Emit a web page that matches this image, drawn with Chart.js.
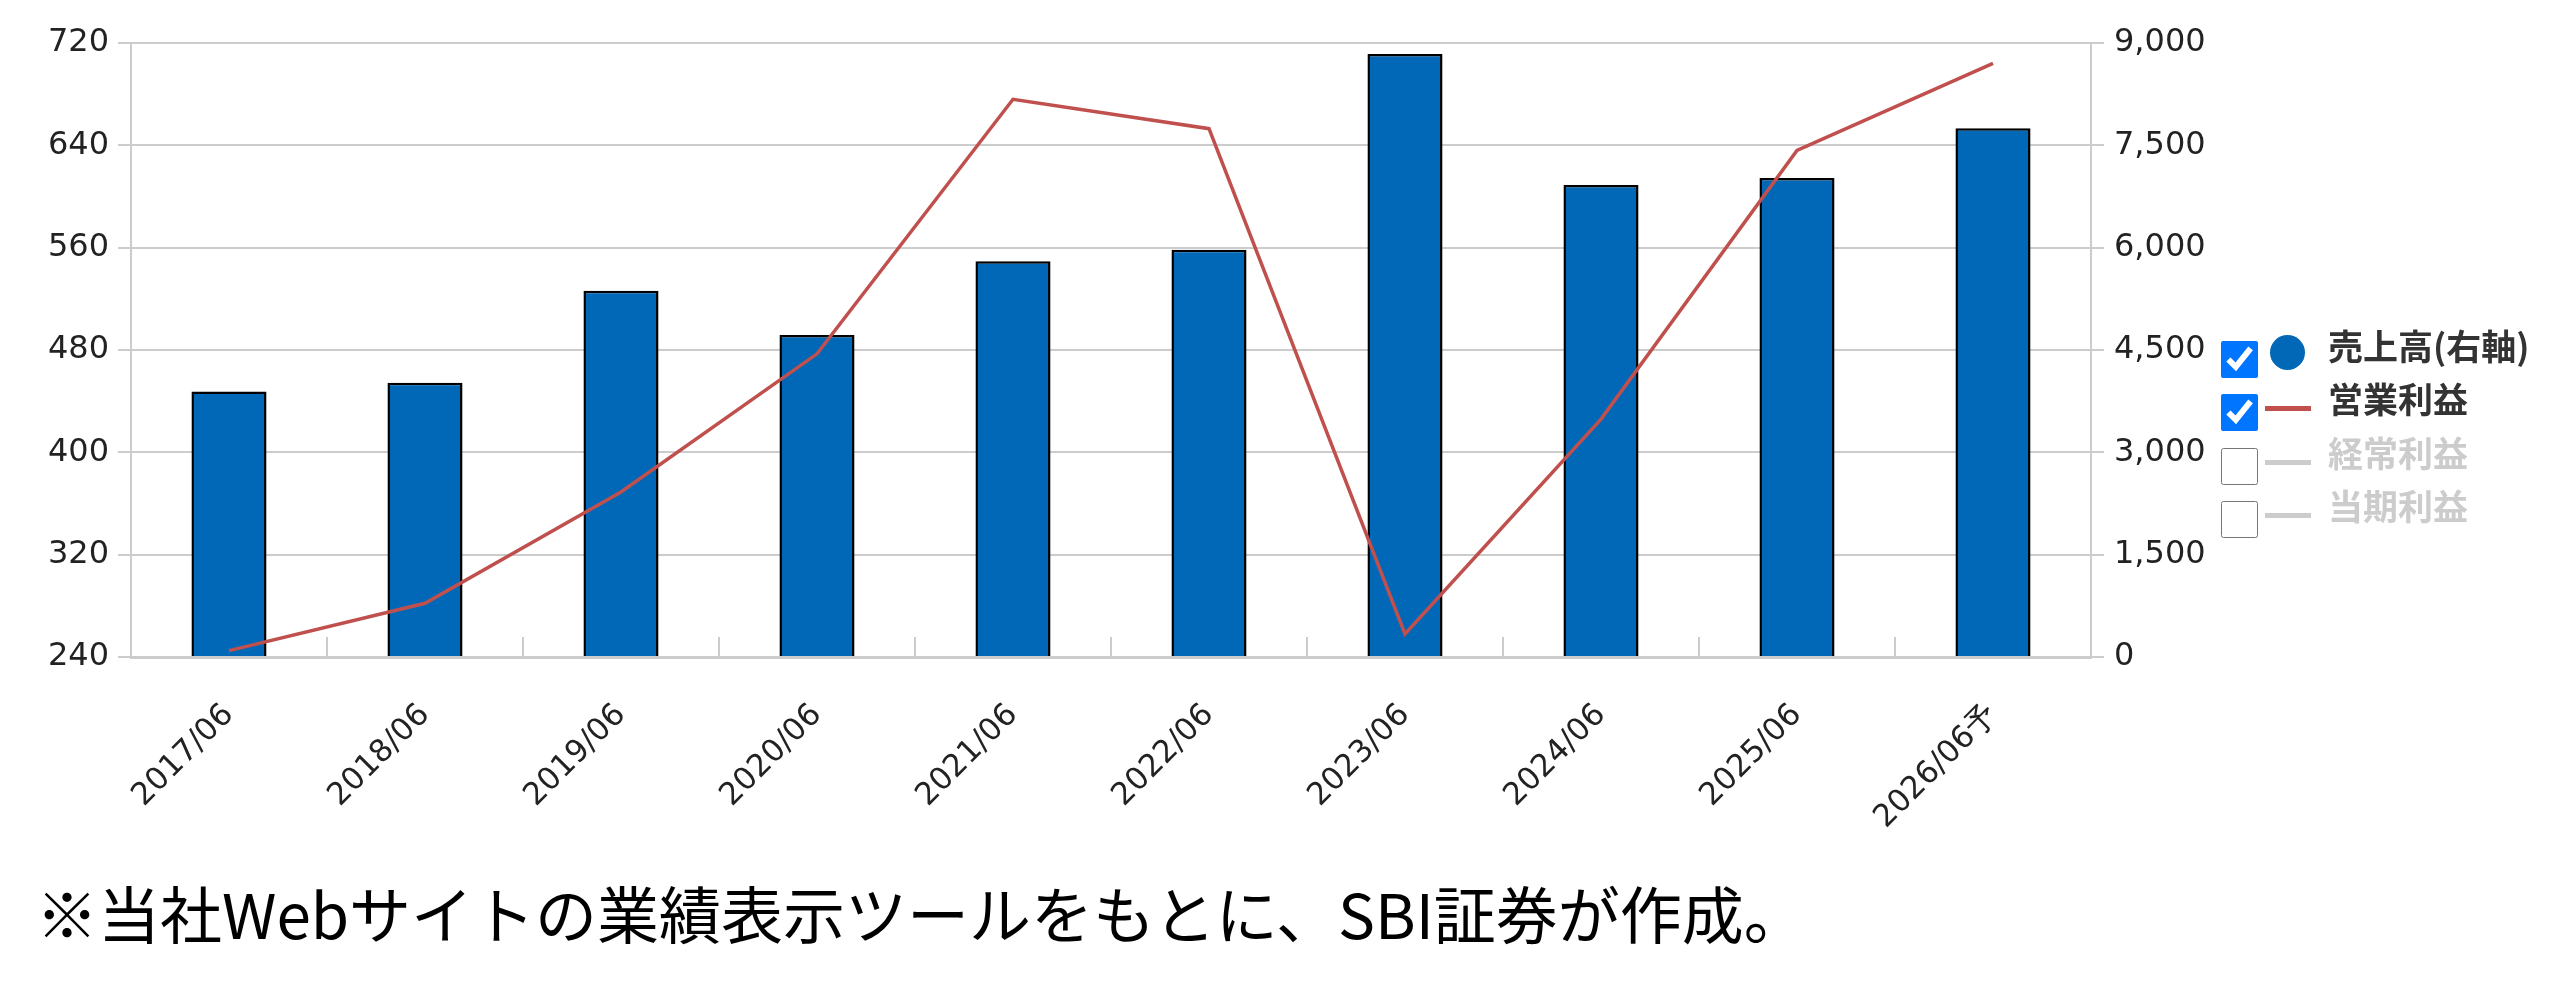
<!DOCTYPE html>
<html>
<head>
<meta charset="utf-8">
<script src="https://cdn.jsdelivr.net/npm/chart.js@4/dist/chart.umd.min.js"></script>
<style>
  html, body { margin: 0; padding: 0; background: #ffffff; }
  #wrap { position: relative; width: 2560px; height: 988px; overflow: hidden; }
  #chart { position: absolute; left: 0; top: 0; }
  .row { position: absolute; left: 2221px; height: 37px; }
  .row input { position: absolute; left: 0; top: 0; width: 37px; height: 37px; margin: 0; }
  .mk-dot { position: absolute; left: 49px; top: -6px; width: 35px; height: 35px; border-radius: 50%; background: #0068b7; }
  .mk-line { position: absolute; left: 44px; top: 12px; width: 46px; height: 5px; }
  .lbl { position: absolute; left: 107px; top: -16px; font-family: "Noto Sans CJK JP", sans-serif; font-weight: 700; font-size: 35px; line-height: 40px; white-space: nowrap; }
  #note { position: absolute; left: 36px; top: 877px; font-family: "Noto Sans CJK JP", sans-serif; font-weight: 400; font-size: 62px; line-height: 70px; color: #000; white-space: nowrap; }
</style>
</head>
<body>
<div id="wrap">
  <canvas id="chart" width="2560" height="860"></canvas>
  <div id="legend"></div>
  <div id="note">※当社Webサイトの業績表示ツールをもとに、SBI証券が作成。</div>
</div>
<script>
const categories = ['2017/06', '2018/06', '2019/06', '2020/06', '2021/06', '2022/06', '2023/06', '2024/06', '2025/06', '2026/06予'];
const salesValues = [3890, 4020, 5370, 4720, 5800, 5970, 8840, 6920, 7020, 7750];
const operatingProfitValues = [245, 282, 369, 477, 676, 653, 258, 426, 636, 704];
const leftTickValues = [240, 320, 400, 480, 560, 640, 720];
const rightTickValues = [0, 1500, 3000, 4500, 6000, 7500, 9000];
const legendNames = ['売上高(右軸)', '営業利益', '経常利益', '当期利益'];
const legendActive = [true, true, false, false];

const legendEl = document.getElementById('legend');
legendNames.forEach((name, i) => {
  const row = document.createElement('div');
  row.className = 'row';
  row.style.top = (341 + i * 53.3) + 'px';
  const cb = document.createElement('input');
  cb.type = 'checkbox';
  cb.checked = legendActive[i];
  row.appendChild(cb);
  const mk = document.createElement('div');
  if (i === 0) {
    mk.className = 'mk-dot';
  } else {
    mk.className = 'mk-line';
    mk.style.background = legendActive[i] ? '#c0504d' : '#cccccc';
  }
  row.appendChild(mk);
  const lb = document.createElement('div');
  lb.className = 'lbl';
  lb.textContent = name;
  lb.style.color = legendActive[i] ? '#333333' : '#cccccc';
  row.appendChild(lb);
  legendEl.appendChild(row);
});

const yFont = { family: 'DejaVu Sans', size: 32 };
const xFont = { family: 'DejaVu Sans', size: 31 };
const gridColor = '#cccccc';

new Chart(document.getElementById('chart'), {
  data: {
    labels: categories,
    datasets: [
      {
        type: 'line',
        label: '営業利益',
        data: operatingProfitValues,
        yAxisID: 'y',
        borderColor: '#c0504d',
        borderWidth: 3.5,
        pointRadius: 0,
        tension: 0,
        order: 1
      },
      {
        type: 'bar',
        label: '売上高(右軸)',
        data: salesValues,
        yAxisID: 'y1',
        backgroundColor: '#0068b7',
        borderColor: '#000000',
        borderWidth: 2.5,
        categoryPercentage: 1.0,
        barPercentage: 0.383,
        order: 2
      }
    ]
  },
  options: {
    responsive: false,
    animation: false,
    layout: { padding: { top: 43, left: 0, right: 0, bottom: 0 } },
    plugins: { legend: { display: false }, tooltip: { enabled: false } },
    scales: {
      x: {
        type: 'category',
        offset: true,
        grid: { offset: true, drawOnChartArea: false, drawTicks: true, tickLength: -20, color: gridColor, lineWidth: 2 },
        border: { display: true, color: gridColor, width: 3 },
        ticks: { autoSkip: false, minRotation: 45, maxRotation: 45, padding: 60, color: '#222222', font: xFont },
        afterFit: (s) => { s.height = 203; }
      },
      y: {
        position: 'left',
        min: 240,
        max: 720,
        afterBuildTicks: (s) => { s.ticks = leftTickValues.map(v => ({ value: v })); },
        ticks: { padding: 9, color: '#222222', font: yFont },
        grid: { color: gridColor, lineWidth: 2, tickLength: 13 },
        border: { display: true, color: gridColor, width: 2 },
        afterFit: (s) => { s.width = 131; }
      },
      y1: {
        position: 'right',
        min: 0,
        max: 9000,
        afterBuildTicks: (s) => { s.ticks = rightTickValues.map(v => ({ value: v })); },
        ticks: { padding: 10, color: '#222222', font: yFont, callback: (v) => Number(v).toLocaleString('en-US') },
        grid: { drawOnChartArea: false, color: gridColor, lineWidth: 2, tickLength: 13 },
        border: { display: true, color: gridColor, width: 2 },
        afterFit: (s) => { s.width = 469; }
      }
    }
  }
});
</script>
</body>
</html>
